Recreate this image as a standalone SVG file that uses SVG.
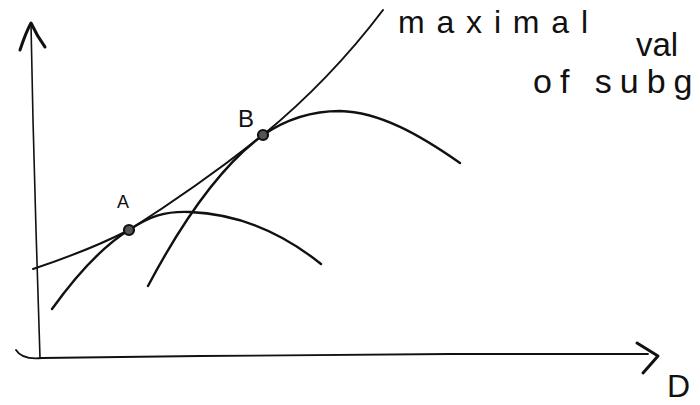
<svg xmlns="http://www.w3.org/2000/svg" width="700" height="405" viewBox="0 0 700 405">
<style>
.ink{fill:none;stroke:#111;stroke-linecap:round;stroke-linejoin:round}
.hand{font-family:"Liberation Sans","DejaVu Sans",sans-serif;fill:#111}
</style>
<rect width="700" height="405" fill="#fff"/>
<g id="axes">
  <path class="ink" stroke-width="1.6" d="M31,24 L33,120 L36,230 L40,358"/>
  <path class="ink" stroke-width="3" d="M20,50 Q26,32 31,23 Q37,36 45,47"/>
  <path class="ink" stroke-width="1.8" d="M16,350 Q22,360 42,358 L200,356 L450,354 L648,354"/>
  <path class="ink" stroke-width="3" d="M637,343 L658,356 L643,373"/>
  <text class="hand" x="667" y="397" font-size="32">D</text>
</g>
<g id="connectors">
  <path id="envelope" class="ink" stroke-width="2" d="M33,269 Q90,250 129,230 Q200,185 263,135 Q330,80 383,10"/>
  <path id="curveA" class="ink" stroke-width="2.4" d="M52,309 C80,270 105,245 129,230 C150,216 165,211 190,212 C240,214 285,235 321,264"/>
  <path id="curveB" class="ink" stroke-width="2.4" d="M148,286 C175,235 215,170 263,135 C285,120 310,111 340,111 C380,112 420,135 460,163"/>
</g>
<g id="pointA">
  <circle cx="129" cy="230" r="5" fill="#555" stroke="#111" stroke-width="2.2"/>
  <text class="hand" x="117" y="208" font-size="18">A</text>
</g>
<g id="pointB">
  <circle cx="263" cy="135" r="5" fill="#555" stroke="#111" stroke-width="2.2"/>
  <text class="hand" x="238" y="127" font-size="24">B</text>
</g>
<g id="label">
  <text class="hand" x="398" y="33" font-size="32" textLength="190" lengthAdjust="spacing">maximal</text>
  <text class="hand" x="636" y="56" font-size="33">val</text>
  <text class="hand" x="533" y="93" font-size="34" letter-spacing="8">of subg</text>
</g>
</svg>
